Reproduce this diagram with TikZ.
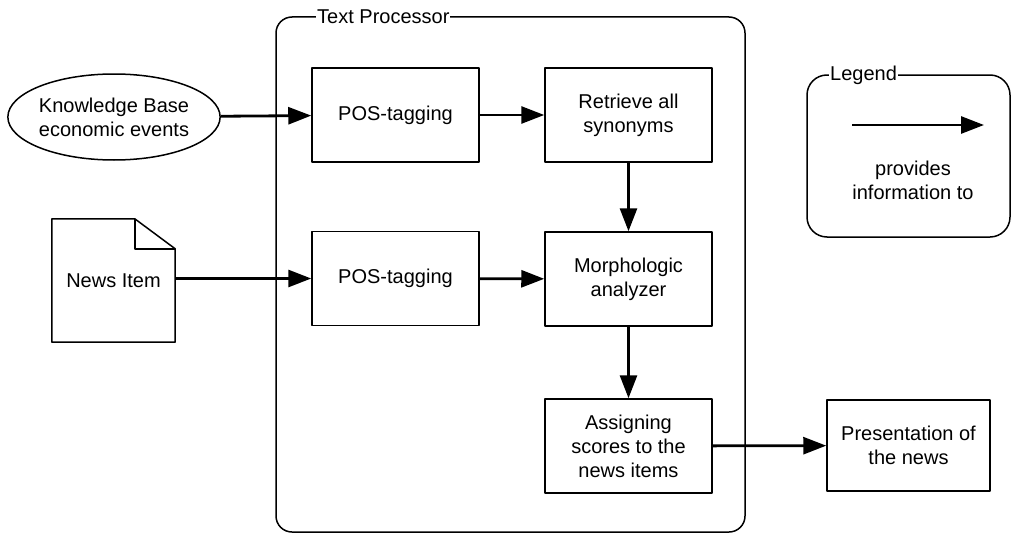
\documentclass[tikz,border=0pt]{standalone}
\usepackage{fontspec}
\setmainfont{Liberation Sans}
\usetikzlibrary{arrows.meta, shapes.geometric}
\newcommand*{\lineW}{1.5pt}
\newcommand*{\flowArrow}[2]{\draw [flow] (#1) -- (#2);} % from, to
\tikzset{
    every node/.style={font=\fontsize{20}{24}\selectfont},
    proc/.style={draw, line width=\lineW, minimum width=167pt, minimum height=94pt, align=center, inner sep=2pt},
    flow/.style={line width=2.8pt, -{Triangle[length=23pt,width=17pt]}},
    frame/.style={draw, line width=\lineW, rounded corners=16pt},
    framelabel/.style={fill=white, inner sep=1pt, anchor=west},
}

\begin{document}
\begin{tikzpicture}[x=1pt, y=-1pt, line join=round] {
\useasboundingbox (0,0) rectangle (1011,535);

% outer frames
\draw [frame] (276,17) rectangle (745,532);
\node [framelabel] (tplabel) at (316,17) {Text Processor};
\draw [frame, rounded corners=20pt] (807,75) rectangle (1010,237);
\node [framelabel] (leglabel) at (829,75) {Legend};

% inputs
\node [ellipse, draw, line width=\lineW, minimum width=204pt, minimum height=86pt, align=center, inner sep=0pt] (kb) at (114,117) {Knowledge Base\\economic events};
\node [minimum width=123pt, minimum height=123pt, inner sep=0pt] (news) at (113.5,280.5) {News Item};
\draw [line width=\lineW] (news.north west) -- ++(83,0) -- ([yshift=-30pt]news.north east) -- (news.south east) -- (news.south west) -- cycle;
\draw [line width=\lineW] ([xshift=-40pt]news.north east) -- ++(0,30) -- ++(40,0);

% processing steps
\node [proc] (pos1) at (395.5,115) {POS-tagging};
\node [proc] (syn) at (628.5,115) {Retrieve all\\synonyms};
\node [proc] (pos2) at (395.5,278.5) {POS-tagging};
\node [proc] (morph) at (628.5,279) {Morphologic\\analyzer};
\node [proc] (score) at (628.5,446) {Assigning\\scores to the\\news items};
\node [proc, minimum width=163pt, minimum height=91pt] (pres) at (908.5,445.5) {Presentation of\\the news};

\flowArrow{kb}{pos1}
\flowArrow{pos1}{syn}
\flowArrow{syn}{morph}
\flowArrow{news.east |- pos2}{pos2}
\flowArrow{pos2}{morph}
\flowArrow{morph}{score}
\flowArrow{score}{pres}

% legend
\coordinate (legfrom) at (852,125);
\coordinate (legto) at (984,125);
\flowArrow{legfrom}{legto}
\node [align=center] (legtext) at (913,180) {provides\\information to};
}\end{tikzpicture}
\end{document}
